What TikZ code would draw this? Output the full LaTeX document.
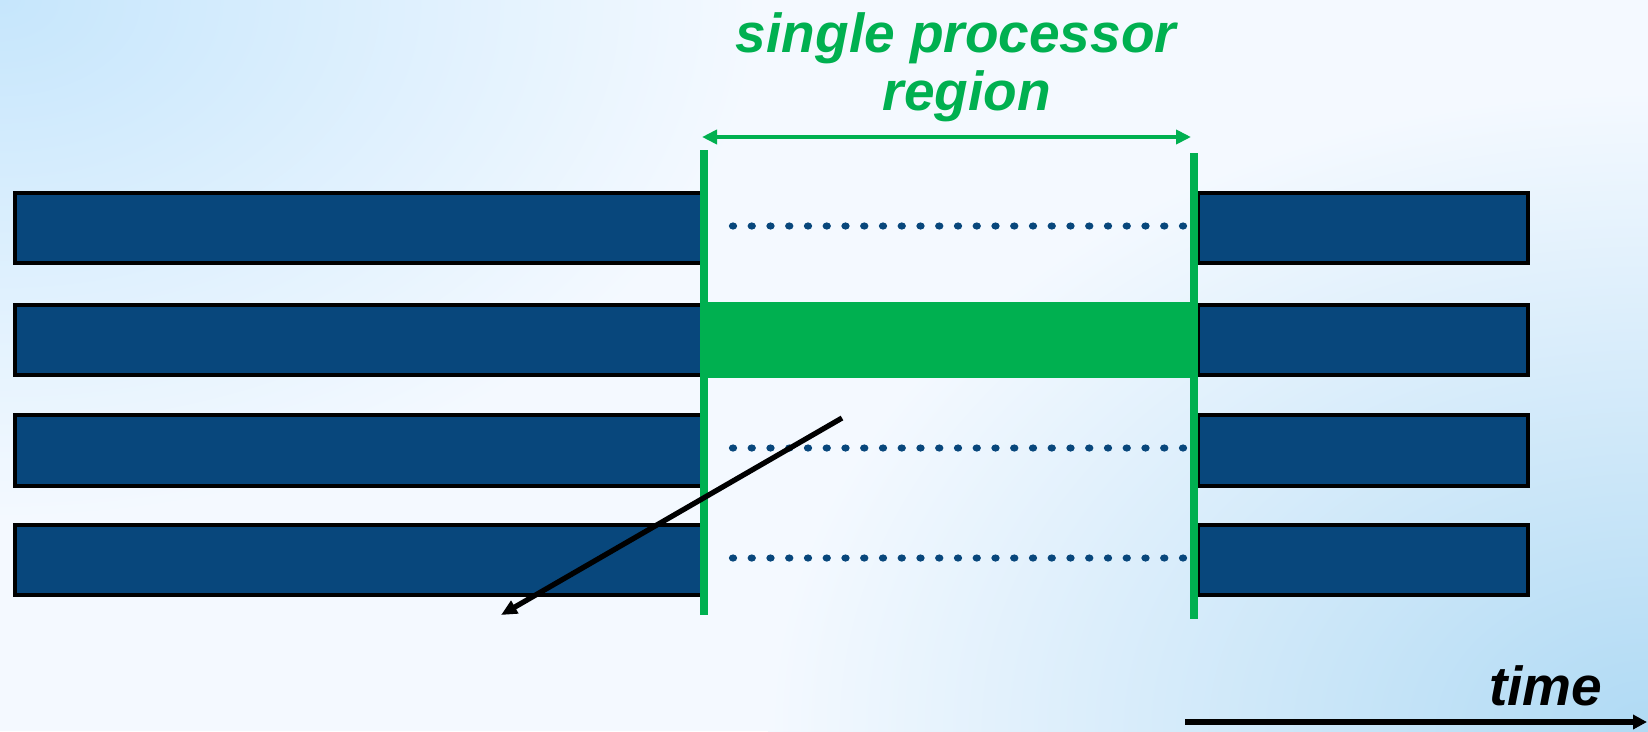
\documentclass[tikz,border=0pt]{standalone}
\usepackage{fontspec}
\setmainfont{Liberation Sans}
\usepackage{tikz}
\usetikzlibrary{arrows.meta}

\definecolor{barblue}{RGB}{8,71,124}
\definecolor{markgreen}{RGB}{0,176,80}
\definecolor{bgcorner}{RGB}{198,230,252}
\definecolor{bgmid}{RGB}{244,249,255}
\definecolor{bgfar}{RGB}{176,218,244}

\begin{document}
\begin{tikzpicture}[x=0.2mm,y=-0.2mm,
    procbar/.style={fill=barblue,draw=black,line width=2.2pt},
    bound/.style={draw=markgreen,line width=4.6pt},
    lbl/.style={font=\fontsize{31.3}{33.3}\selectfont\bfseries\itshape,inner sep=0pt}]
      \useasboundingbox (0,0) rectangle (1648,731);
      \begin{scope}
        \clip (0,0) rectangle (1648,731);
        \fill[bgmid] (0,0) rectangle (1648,731);
        \shade[inner color=bgcorner,outer color=bgmid] (0,0) ellipse[x radius=760,y radius=520];
        \shade[inner color=bgfar,outer color=bgmid] (1648,731) ellipse[x radius=880,y radius=640];
      \end{scope}

      \foreach \top/\bot in {193/263,305/375,415/486,525/595} {
        \draw[procbar] (15,\top) rectangle (702,\bot);
        \draw[procbar] (1198,\top) rectangle (1528,\bot);
      }
      \fill[markgreen] (702,302) rectangle (1198,378);

      \foreach \row in {226,448,558}
        \foreach \i in {0,...,24}
          \fill[barblue] (733+18.75*\i,\row) circle[x radius=4.2,y radius=3.6];

      \coordinate (lt) at (704,150);
      \coordinate (lb) at (704,615);
      \coordinate (rt) at (1194,153);
      \coordinate (rb) at (1194,619);
      \draw[bound] (lt) -- (lb);
      \draw[bound] (rt) -- (rb);

      \coordinate (span-l) at (702,137);
      \coordinate (span-r) at (1191,137);
      \draw[markgreen,line width=2.3pt,{Triangle[length=3mm,width=2.8mm]}-{Triangle[length=3mm,width=2.8mm]}] (span-l) -- (span-r);

      \coordinate (diag-s) at (842,418);
      \coordinate (diag-e) at (501,615);
      \draw[line width=3pt,-{Triangle[length=3.2mm,width=2.8mm]}] (diag-s) -- (diag-e);

      \coordinate (time-s) at (1185,722);
      \coordinate (time-e) at (1647,722);
      \draw[line width=3.2pt,-{Triangle[length=2.8mm,width=2.8mm]}] (time-s) -- (time-e);

      \node[lbl,text=markgreen,align=center,anchor=north] (region) at (956,12) {single processor\\\hspace*{0.4em}region};
      \node[lbl,anchor=base west] (time) at (1489,705) {time};
    \end{tikzpicture}
\end{document}
